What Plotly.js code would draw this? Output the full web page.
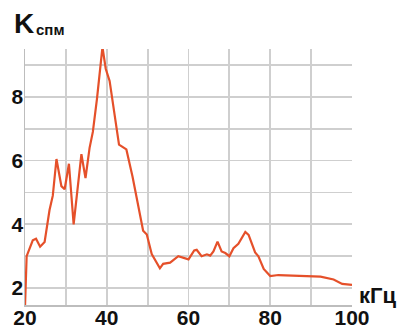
<!DOCTYPE html>
<html>
<head>
<meta charset="utf-8">
<script src="https://cdn.plot.ly/plotly-3.0.1.min.js"></script>
<style>html,body{margin:0;padding:0;background:#fff;}#chart{width:400px;height:329px;}</style>
</head>
<body>
<div id="chart"></div>
<script>
const freq = [20, 20.4, 21.9, 22.7, 23.7, 24.8, 26, 26.8, 27.7, 28.9, 29.7, 30.75, 31.9, 33.8, 34.8, 35.8, 36.6, 37.6, 38.95, 39.75, 40.7, 41.96, 43.0, 44.8, 46.3, 48.9, 49.8, 51, 53, 53.8, 55.5, 57.5, 60, 61.4, 62, 63.2, 64.5, 65.3, 66.1, 67.1, 68.1, 69, 70, 71, 72.2, 73.9, 74.7, 76.3, 77.1, 78.4, 80, 82, 87.4, 90.6, 92.3, 95.5, 97.6, 100];
const kspm = [1.4, 3.0, 3.5, 3.55, 3.3, 3.45, 4.45, 4.9, 6.05, 5.2, 5.1, 5.9, 4.0, 6.2, 5.45, 6.4, 6.9, 7.93, 9.56, 8.88, 8.5, 7.35, 6.5, 6.35, 5.5, 3.8, 3.68, 3.07, 2.62, 2.76, 2.8, 3.0, 2.9, 3.18, 3.2, 3.0, 3.06, 3.02, 3.15, 3.46, 3.15, 3.1, 3.0, 3.25, 3.39, 3.76, 3.67, 3.12, 3.0, 2.6, 2.38, 2.41, 2.39, 2.38, 2.36, 2.27, 2.13, 2.1];
const xTicks = [20, 40, 60, 80, 100];
const yTicks = [2, 4, 6, 8];
const yTitleMain = "K";
const yTitleSub = "спм";
const xTitle = "кГц";

const tickFont = {family: "Liberation Sans, Arial, sans-serif", size: 21, weight: "bold", color: "#111"};
const gridGrey = "#cfcfcf";

const layout = {
  width: 400, height: 329,
  margin: {l: 25, r: 48, t: 49, b: 24, pad: 0},
  paper_bgcolor: "#ffffff",
  plot_bgcolor: "#ffffff",
  showlegend: false,
  xaxis: {
    range: [20, 100],
    tickmode: "array", tickvals: xTicks, ticktext: xTicks.map(String),
    tickfont: tickFont,
    ticklabelstandoff: -7,
    showgrid: true, gridcolor: gridGrey, gridwidth: 1.8,
    minor: {tickmode: "linear", tick0: 0, dtick: 10, showgrid: true, gridcolor: gridGrey, gridwidth: 1.8},
    ticks: "",
    showline: true, linecolor: "#bdbdbd", linewidth: 1.5,
    zeroline: false, fixedrange: true
  },
  yaxis: {
    range: [1.47, 9.5],
    tickmode: "array", tickvals: yTicks, ticktext: yTicks.map(String),
    tickfont: tickFont,
    ticklabelstandoff: -4,
    showgrid: true, gridcolor: gridGrey, gridwidth: 1.8,
    minor: {tickmode: "linear", tick0: 0, dtick: 1, showgrid: true, gridcolor: gridGrey, gridwidth: 1.8},
    ticks: "",
    showline: true, linecolor: "#bdbdbd", linewidth: 1.5,
    zeroline: false, fixedrange: true
  },
  annotations: [
    {text: "<b>" + yTitleMain + "</b>", xref: "paper", yref: "paper", x: -13/327, y: (305-23)/256,
     xanchor: "left", yanchor: "middle", showarrow: false,
     font: {family: "Liberation Sans, Arial, sans-serif", size: 28, color: "#111"}},
    {text: "<b>" + yTitleSub + "</b>", xref: "paper", yref: "paper", x: 9/327, y: (305-29)/256,
     xanchor: "left", yanchor: "middle", showarrow: false,
     font: {family: "Liberation Sans, Arial, sans-serif", size: 15, color: "#111"}},
    {text: "<b>" + xTitle + "</b>", xref: "paper", yref: "paper", x: (357-25)/327, y: (305-295)/256,
     xanchor: "left", yanchor: "middle", showarrow: false,
     font: {family: "Liberation Sans, Arial, sans-serif", size: 22, color: "#111"}}
  ]
};

const trace = {
  x: freq, y: kspm, type: "scatter", mode: "lines",
  line: {color: "#e5502a", width: 2.2},
  hoverinfo: "skip"
};

Plotly.newPlot("chart", [trace], layout, {staticPlot: true, displayModeBar: false});
</script>
</body>
</html>
